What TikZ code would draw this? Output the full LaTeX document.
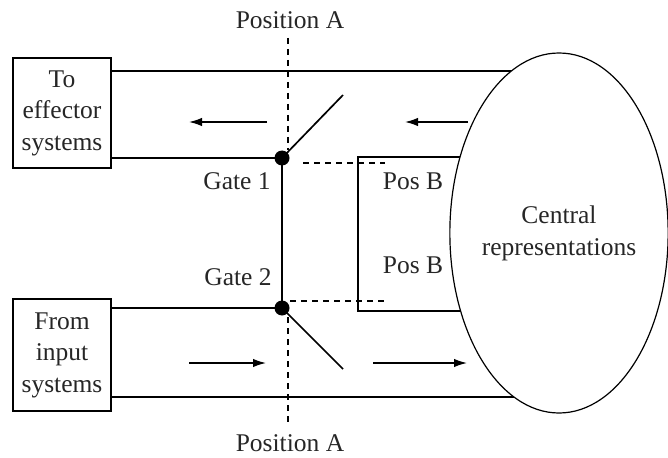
\documentclass[tikz,border=0pt]{standalone}
\usepackage{fontspec}
\setmainfont{Liberation Serif}
\usetikzlibrary{shapes.geometric,arrows.meta,backgrounds}

\tikzset{
  lbl/.style={font=\fontsize{25.5}{31}\selectfont, text=black!85, inner sep=0pt},
  sysbox/.style={draw, line width=1.7pt, minimum width=98pt, minimum height=110pt,
    align=center, inner sep=0pt, font=\fontsize{25.5}{31.5}\selectfont, text=black!85},
  gatedot/.style={circle, fill=black, inner sep=0pt, minimum size=15pt},
  wire/.style={line width=1.7pt},
  thickwire/.style={line width=2.3pt},
  posline/.style={line width=1.3pt, dash pattern=on 6pt off 5pt},
  flow/.style={line width=1.5pt, -{Latex[length=13pt,width=8.5pt]}}
}

\begin{document}
\begin{tikzpicture}[x=1pt,y=-1pt]
\useasboundingbox (0,0) rectangle (668,457);

% central representations
\node[ellipse, draw, line width=1.2pt, fill=white, minimum width=215pt,
      minimum height=360pt, inner sep=0pt, align=center,
      font=\fontsize{25.5}{32}\selectfont, text=black!85]
  (central) at (559,233) {Central\\representations};

% peripheral systems
\node[sysbox] (to) at (62,113) {To\\effector\\systems};
\node[sysbox, minimum height=112pt] (from) at (62,355) {From\\input\\systems};

% gates
\node[gatedot] (g1) at (282,158) {};
\node[gatedot] (g2) at (282,308) {};

% rails towards the central representations
\coordinate (topy) at (0,71);
\coordinate (boty) at (0,397);
\coordinate (posBtop) at (358,157);
\coordinate (posBbot) at (358,311);

\begin{scope}[on background layer]
  \draw[wire] (to.east |- topy) -- (central.center |- topy);
  \draw[wire] (from.east |- boty) -- (central.center |- boty);
  \draw[wire] (to.east |- g1) -- (g1.center);
  \draw[wire] (from.east |- g2) -- (g2.center);
  \draw[thickwire] (g1.center) -- (g2.center);
  % position B loop
  \draw[thickwire] (central.center |- posBtop) -- (posBtop) -- (posBbot)
        -- (central.center |- posBbot);
  % position A
  \draw[posline] (288,38) -- (288,150);
  \draw[posline] (288,317) -- (288,426);
  \draw[posline] (303,163) -- (385,163);
  \draw[posline] (290,301) -- (385,301);
\end{scope}

% switches
\draw[wire] (g1.center) -- (343,95);
\draw[wire] (g2.center) -- (343,369);

% flow arrows
\draw[flow] (267,122) -- (189,122);
\draw[flow] (468,122) -- (405,122);
\draw[flow] (189,363) -- (266,363);
\draw[flow] (373,363) -- (467,363);

% labels
\node[lbl] (posAtop) at (290,20) {Position A};
\node[lbl] (posAbot) at (290,443) {Position A};
\node[lbl] (gate1) at (237,181) {Gate 1};
\node[lbl] (gate2) at (238,277) {Gate 2};
\node[lbl] (posB1) at (413,181) {Pos B};
\node[lbl] (posB2) at (413,265) {Pos B};
\end{tikzpicture}
\end{document}
